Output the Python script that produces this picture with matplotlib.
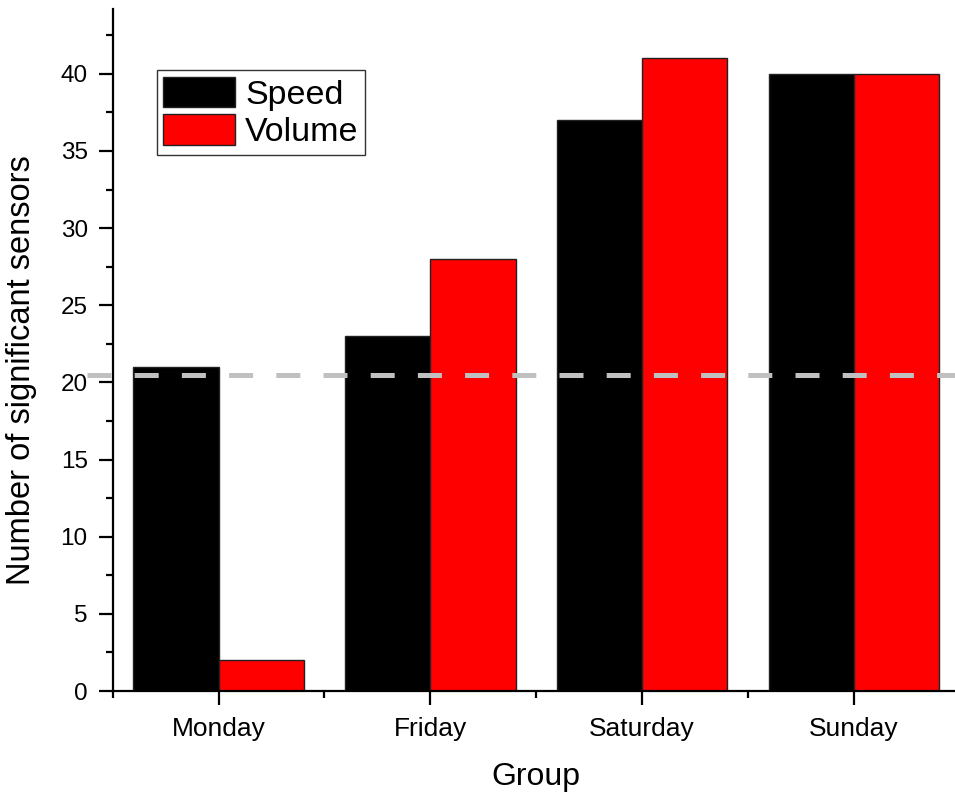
import numpy as np
import matplotlib
matplotlib.use('Agg')
import matplotlib.pyplot as plt
from matplotlib.ticker import MultipleLocator

groups = ['Monday', 'Friday', 'Saturday', 'Sunday']
speed = [21, 23, 37, 40]
volume = [2, 28, 41, 40]
threshold = 20.5

plt.rcParams['font.family'] = ['Liberation Sans', 'DejaVu Sans']

fig = plt.figure(figsize=(9.55, 7.93), dpi=100)
ax = fig.add_axes([0.118, 0.1286, 0.887, 0.860])

x = np.arange(len(groups))
w = 0.403
ax.bar(x - w / 2, speed, w, color='black', edgecolor='#222222', linewidth=1, label='Speed')
ax.bar(x + w / 2, volume, w, color='#ff0000', edgecolor='#222222', linewidth=1, label='Volume')

# threshold line, runs a bit past the left spine like in the original
ax.plot([-0.62, 3.7], [threshold, threshold], color='#c0c0c0', lw=3.6,
        dashes=(4.8, 4.64), clip_on=False, zorder=5)

ax.set_xlim(-0.5, 3.5)
ax.set_ylim(0, 44.2)
ax.set_xticks(x)
ax.set_xticklabels(groups)
ax.xaxis.set_minor_locator(MultipleLocator(0.5))
ax.yaxis.set_major_locator(MultipleLocator(5))
ax.yaxis.set_minor_locator(MultipleLocator(2.5))

for s in ['top', 'right']:
    ax.spines[s].set_visible(False)
for s in ['left', 'bottom']:
    ax.spines[s].set_linewidth(1.6)
ax.tick_params(which='major', direction='out', length=10, width=1.6, labelsize=17.5, pad=8)
ax.tick_params(which='minor', direction='out', length=5, width=1.6)
ax.tick_params(axis='x', which='major', labelsize=19, pad=9)

ax.set_xlabel('Group', fontsize=23)
ax.xaxis.set_label_coords(0.5, -0.104)
ax.set_ylabel('Number of significant sensors', fontsize=23.5)
ax.yaxis.set_label_coords(-0.089, 0.47)

leg = ax.legend(loc='upper left', bbox_to_anchor=(0.164, 0.9117),
                bbox_transform=fig.transFigure, fontsize=24.5, fancybox=False,
                edgecolor='#333333', framealpha=1, borderpad=0.2, borderaxespad=0,
                handlelength=2.1, handleheight=1.0, handletextpad=0.3, labelspacing=0.1)
leg.get_frame().set_linewidth(1)

fig.savefig('out.png', dpi=100)
